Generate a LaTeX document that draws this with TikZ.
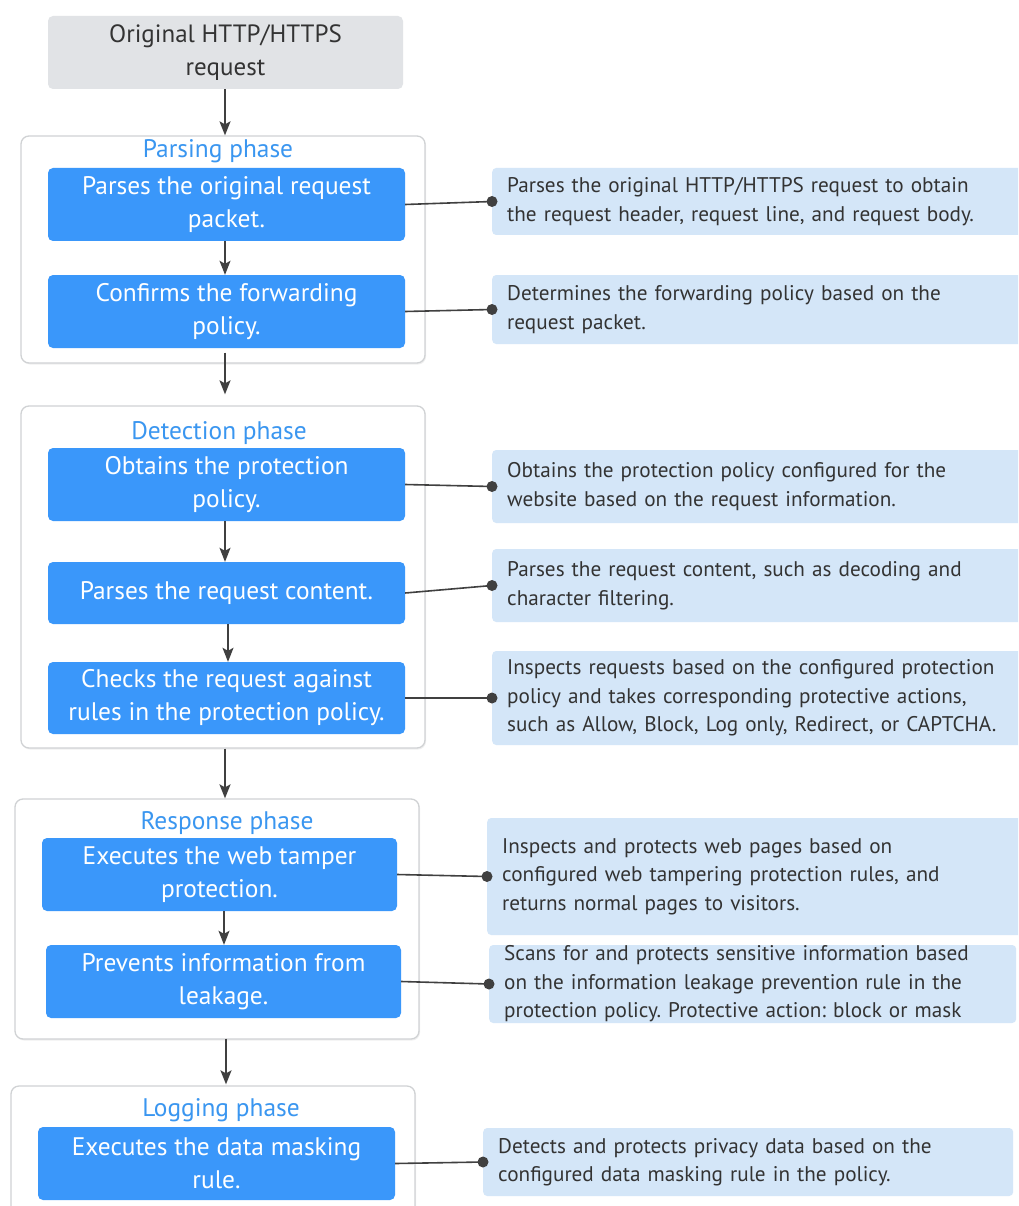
\documentclass[tikz,border=0pt]{standalone}
\usepackage{fontspec}
\setmainfont{PT Sans}
\frenchspacing
\usetikzlibrary{arrows.meta,shadows}
\definecolor{boxblue}{HTML}{3A97FA}
\definecolor{titleblue}{HTML}{3A96F0}
\definecolor{descfill}{HTML}{D4E6F8}
\definecolor{greyfill}{HTML}{E1E3E6}
\definecolor{linegrey}{HTML}{404040}
\definecolor{framegrey}{HTML}{D0D2D4}
\definecolor{textgrey}{HTML}{333333}
\begin{document}
\begin{tikzpicture}[x=1pt,y=-1pt,
  container/.style={draw=framegrey,line width=1.3pt,fill=white,rounded corners=8pt,
    drop shadow={shadow xshift=1pt,shadow yshift=-1.5pt,opacity=0.12},minimum width=404pt},
  bluebox/.style={fill=boxblue,rounded corners=5pt,text=white,align=center,
    font=\fontsize{25.4}{33}\selectfont,inner sep=0pt},
  greybox/.style={fill=greyfill,rounded corners=5pt,text=textgrey,align=center,
    font=\fontsize{25}{33}\selectfont,inner sep=0pt},
  desc/.style={fill=descfill,rounded corners=4pt,text=textgrey,align=left,anchor=west,
    font=\fontsize{21.2}{28.5}\selectfont,inner xsep=15pt,inner ysep=0pt,text width=520pt,
    minimum width=550pt},
  phasetitle/.style={text=titleblue,font=\fontsize{25.4}{28}\selectfont,inner sep=0pt},
  flow/.style={draw=linegrey,line width=1.6pt,-{Stealth[length=14pt,width=11pt,inset=3pt]}},
  conn/.style={draw=linegrey,line width=1.6pt},
  dotc/.style={fill=linegrey}
]
\useasboundingbox (0,0) rectangle (1018,1206);
\clip (0,0) rectangle (1018,1206);
\fill[white] (0,0) rectangle (1018,1206);

% containers
\node[container,minimum height=227pt] (c1) at (223,249.5) {};
\node[container,minimum height=342pt] (c2) at (223,577) {};
\node[container,minimum height=240pt] (c3) at (217,919) {};
\node[container,minimum height=150pt] (c4) at (213,1161) {};

\node[phasetitle] (t1) at (218,151) {Parsing phase};
\node[phasetitle] (t2) at (219,433) {Detection phase};
\node[phasetitle] (t3) at (227,823) {Response phase};
\node[phasetitle] (t4) at (221,1110) {Logging phase};

% top request
\node[greybox,minimum width=355pt,minimum height=73pt] (g0) at (225.5,52.5) {Original HTTP/HTTPS\\request};

% blue steps
\node[bluebox,minimum width=357pt,minimum height=73pt] (b1) at (226.5,204.5) {Parses the original request\\packet.};
\node[bluebox,minimum width=357pt,minimum height=73pt] (b2) at (226.5,311.5) {Confirms the forwarding\\policy.};
\node[bluebox,minimum width=357pt,minimum height=73pt] (b3) at (226.5,484.5) {Obtains the protection\\policy.};
\node[bluebox,minimum width=357pt,minimum height=62pt] (b4) at (226.5,593) {Parses the request content.};
\node[bluebox,minimum width=357pt,minimum height=72pt] (b5) at (226.5,698) {Checks the request against\\rules in the protection policy.};
\node[bluebox,minimum width=355pt,minimum height=73pt] (b6) at (219.5,874.5) {Executes the web tamper\\protection.};
\node[bluebox,minimum width=355pt,minimum height=73pt] (b7) at (223.5,981.5) {Prevents information from\\leakage.};
\node[bluebox,minimum width=357pt,minimum height=73pt] (b8) at (216.5,1163.5) {Executes the data masking\\rule.};

% descriptions
\node[desc,minimum height=67pt] (d1) at (492,201.5) {Parses the original HTTP/HTTPS request to obtain\\the request header, request line, and request body.};
\node[desc,minimum height=69pt] (d2) at (492,309.5) {Determines the forwarding policy based on the\\request packet.};
\node[desc,minimum height=73pt] (d3) at (492,486.5) {Obtains the protection policy configured for the\\website based on the request information.};
\node[desc,minimum height=73pt] (d4) at (492,585.5) {Parses the request content, such as decoding and\\character filtering.};
\node[desc,minimum height=94pt] (d5) at (492,698) {Inspects requests based on the configured protection\\policy and takes corresponding protective actions,\\such as Allow, Block, Log only, Redirect, or CAPTCHA.};
\node[desc,minimum height=117pt] (d6) at (487,876.5) {Inspects and protects web pages based on\\configured web tampering protection rules, and\\returns normal pages to visitors.};
\node[desc,minimum width=527pt,text width=497pt,minimum height=78pt] (d7) at (489,984) {Scans for and protects sensitive information based\\on the information leakage prevention rule in the\\protection policy. Protective action: block or mask};
\node[desc,minimum width=530pt,text width=500pt,minimum height=68pt] (d8) at (483,1162) {Detects and protects privacy data based on the\\configured data masking rule in the policy.};

% flow arrows
\draw[flow] ([xshift=-0.5pt]g0.south) -- ([xshift=-0.5pt]g0.south |- c1.north);
\draw[flow] ([xshift=-1.5pt]b1.south) -- ([xshift=-1.5pt]b1.south |- b2.north);
\draw[flow] ([xshift=2pt,yshift=11pt]c1.south) -- ([xshift=2pt,yshift=11pt]c1.south |- c2.north);
\draw[flow] ([xshift=-1.5pt]b3.south) -- ([xshift=-1.5pt]b3.south |- b4.north);
\draw[flow] ([xshift=1.5pt]b4.south) -- ([xshift=1.5pt]b4.south |- b5.north);
\draw[flow] ([xshift=2pt]c2.south) -- ([xshift=2pt]c2.south |- c3.north);
\draw[flow] ([xshift=4.5pt]b6.south) -- ([xshift=4.5pt]b6.south |- b7.north);
\draw[flow] ([xshift=9pt,yshift=1pt]c3.south) -- ([xshift=9pt,yshift=1pt]c3.south |- c4.north);

% connectors
\foreach \i in {1,...,8}{
  \draw[conn] (b\i.east) -- (d\i.west);
  \fill[dotc] (d\i.west) circle (5.5pt);
}
\end{tikzpicture}
\end{document}
